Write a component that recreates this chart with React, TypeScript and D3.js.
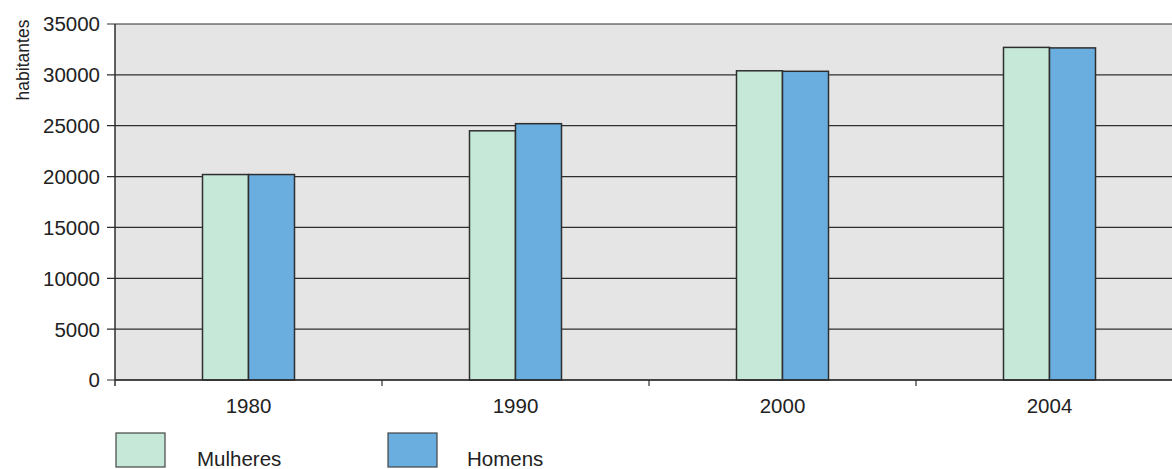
import React from "react";
import * as d3 from "d3";

const categories = ["1980", "1990", "2000", "2004"];
const seriesNames = ["Mulheres", "Homens"];
const mulheres = [20200, 24500, 30400, 32700];
const homens = [20200, 25200, 30350, 32650];
const yTicks = [0, 5000, 10000, 15000, 20000, 25000, 30000, 35000];
const colors = ["#c6e8d9", "#6aaee0"];

export default function App() {
  const W = 1172, H = 469;
  const left = 115, top = 24, bottom = 380, right = 1183;
  const x = d3.scaleBand<string>().domain(categories).range([left, right]).padding(0);
  const y = d3.scaleLinear().domain([0, 35000]).range([bottom, top]);
  const bw = x.bandwidth();
  const inner = d3.scaleBand<string>().domain(seriesNames).range([bw / 2 - 46, bw / 2 + 46]).padding(0);
  const data = [mulheres, homens];
  const font = "'Liberation Sans', Arial, sans-serif";
  const fs = 20.5;
  return (
    <svg width={W} height={H} style={{ position: "absolute", left: 0, top: 0, background: "#fff" }}>
      <rect x={left} y={top} width={right - left} height={bottom - top} fill="#e5e5e5" />
      {yTicks.map((t) => (
        <g key={t}>
          <line x1={left - 8} x2={W} y1={y(t)} y2={y(t)} stroke="#2e2e2e" strokeWidth={1.2} />
          <text x={100} y={y(t)} dy="0.36em" textAnchor="end" fontFamily={font} fontSize={fs} fill="#222">{t}</text>
        </g>
      ))}
      <line x1={left} x2={left} y1={top} y2={bottom + 6} stroke="#2e2e2e" strokeWidth={1.5} />
      {categories.map((c, i) => (
        <g key={c}>
          {i > 0 && <line x1={x(c)!} x2={x(c)!} y1={bottom} y2={bottom + 6} stroke="#2e2e2e" strokeWidth={1.2} />}
          <text x={x(c)! + bw / 2} y={413} textAnchor="middle" fontFamily={font} fontSize={fs} fill="#222">{c}</text>
        </g>
      ))}
      {categories.map((c, i) =>
        seriesNames.map((s, j) => (
          <rect key={c + s} x={x(c)! + inner(s)!} y={y(data[j][i])} width={inner.bandwidth()} height={bottom - y(data[j][i])}
            fill={colors[j]} stroke="#2e2e2e" strokeWidth={1.5} />
        ))
      )}
      <line x1={left} x2={W} y1={bottom} y2={bottom} stroke="#2e2e2e" strokeWidth={1.5} />
      <text transform={`translate(29, 60) rotate(-90)`} textAnchor="middle" fontFamily={font} fontSize={17.5} fill="#222">habitantes</text>
      {seriesNames.map((s, j) => (
        <g key={s}>
          <rect x={116 + j * 272} y={433} width={49} height={34} fill={colors[j]} stroke="#444" strokeWidth={1.2} />
          <text x={197 + j * 270} y={466} fontFamily={font} fontSize={fs} fill="#222">{s}</text>
        </g>
      ))}
    </svg>
  );
}
